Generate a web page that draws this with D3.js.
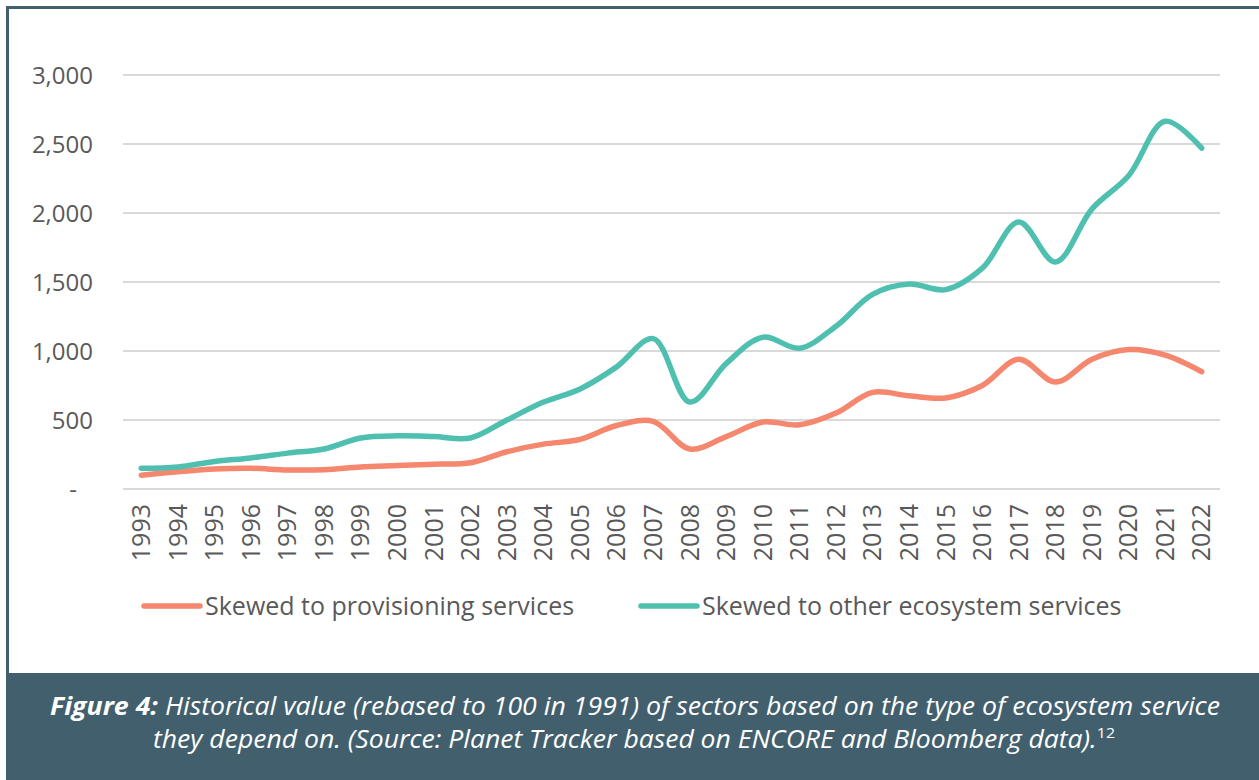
<!DOCTYPE html>
<meta charset="utf-8">
<html>
<head>
<title>Figure 4</title>
<style>
  body { margin: 0; background: #fff; font-family: 'Open Sans', sans-serif; }
  .tick text { fill: #595959; }
</style>
</head>
<body>
<div id="chart"></div>
<script src="https://cdn.jsdelivr.net/npm/d3@7"></script>
<script>

var years = ["1993","1994","1995","1996","1997","1998","1999","2000","2001","2002",
             "2003","2004","2005","2006","2007","2008","2009","2010","2011","2012",
             "2013","2014","2015","2016","2017","2018","2019","2020","2021","2022"];

var provisioning = [100, 125, 145, 150, 138, 140, 160, 170, 180, 190,
                    270, 325, 360, 460, 490, 290, 380, 485, 465, 550,
                    700, 675, 660, 750, 940, 775, 940, 1010, 970, 850];

var otherServices = [150, 160, 200, 225, 260, 290, 370, 385, 380, 370,
                     500, 630, 725, 885, 1090, 630, 910, 1100, 1020, 1180,
                     1410, 1485, 1445, 1600, 1935, 1645, 2030, 2270, 2665, 2470];

var yTicks = [0, 500, 1000, 1500, 2000, 2500, 3000];

var seriesNames = ["Skewed to provisioning services", "Skewed to other ecosystem services"];
var colors = ["#F4876D", "#4FC0B0"];

var width = 1259, height = 780;
var frame = "#425F6E";

var svg = d3.select("#chart").append("svg")
    .attr("width", width)
    .attr("height", height);

// outer frame (left + top edges) and caption band
svg.append("rect").attr("x", 0).attr("y", 0).attr("width", width).attr("height", height).style("fill", "#fff");
svg.append("rect").attr("x", 6).attr("y", 6).attr("width", width).attr("height", 3).style("fill", frame);
svg.append("rect").attr("x", 6).attr("y", 6).attr("width", 3).attr("height", height).style("fill", frame);
svg.append("rect").attr("x", 6).attr("y", 673).attr("width", width).attr("height", height - 673).style("fill", frame);

var x = d3.scaleBand().domain(years).range([123, 1220]);
var y = d3.scaleLinear().domain([0, 3000]).range([489, 75]);

// grid lines
svg.append("g")
  .selectAll("line")
  .data(yTicks).enter()
  .append("line")
    .attr("x1", 123).attr("x2", 1220)
    .attr("y1", function(d){ return y(d); })
    .attr("y2", function(d){ return y(d); })
    .style("stroke", "#d9d9d9")
    .style("stroke-width", 2);

// y axis
var yAxis = svg.append("g")
    .attr("transform", "translate(93,0)")
    .call(d3.axisLeft(y).tickValues(yTicks).tickSize(0).tickPadding(0)
      .tickFormat(function(d){ return d === 0 ? "-" : d3.format(",")(d); }));
yAxis.select(".domain").remove();
yAxis.selectAll("text")
    .style("font-family", "'Open Sans', sans-serif")
    .style("font-size", "24px")
    .attr("dy", "0.35em");
yAxis.selectAll(".tick").filter(function(d){ return d === 0; }).select("text")
    .attr("x", -16);

// x axis
var xAxis = svg.append("g")
    .attr("transform", "translate(0,489)")
    .call(d3.axisBottom(x).tickSize(0).tickPadding(0));
xAxis.select(".domain").remove();
xAxis.selectAll("text")
    .style("font-family", "'Open Sans', sans-serif")
    .style("font-size", "25px")
    .attr("transform", "rotate(-90)")
    .attr("x", -15)
    .attr("y", 0)
    .attr("dy", "0.35em")
    .style("text-anchor", "end");

// lines
var line = d3.line()
    .x(function(d, i){ return x(years[i]) + x.bandwidth() / 2; })
    .y(function(d){ return y(d); })
    .curve(d3.curveCatmullRom.alpha(0.5));

[provisioning, otherServices].forEach(function(s, i) {
  svg.append("path")
    .datum(s)
    .attr("d", line)
    .style("fill", "none")
    .style("stroke", colors[i])
    .style("stroke-width", 5.5)
    .style("stroke-linecap", "round")
    .style("stroke-linejoin", "round");
});

// legend
var legendX = [144, 641];
seriesNames.forEach(function(name, i) {
  svg.append("line")
    .attr("x1", legendX[i]).attr("x2", legendX[i] + 56)
    .attr("y1", 606).attr("y2", 606)
    .style("stroke", colors[i])
    .style("stroke-width", 5.5)
    .style("stroke-linecap", "round");
  svg.append("text")
    .attr("x", legendX[i] + 61)
    .attr("y", 615)
    .style("font-size", "25px")
    .style("fill", "#595959")
    .text(name);
});

// caption
var cap1 = svg.append("text")
    .attr("x", 635).attr("y", 715)
    .style("text-anchor", "middle")
    .style("font-size", "25px")
    .style("font-style", "italic")
    .style("fill", "#fff")
    .attr("textLength", 1170)
    .attr("lengthAdjust", "spacingAndGlyphs");
cap1.append("tspan").style("font-weight", "bold").text("Figure 4:");
cap1.append("tspan").text(" Historical value (rebased to 100 in 1991) of sectors based on the type of ecosystem service");

var cap2 = svg.append("text")
    .attr("x", 634).attr("y", 748)
    .style("text-anchor", "middle")
    .style("font-size", "25px")
    .style("font-style", "italic")
    .style("fill", "#fff")
    .attr("textLength", 962)
    .attr("lengthAdjust", "spacingAndGlyphs");
cap2.append("tspan").text("they depend on. (Source: Planet Tracker based on ENCORE and Bloomberg data).");
cap2.append("tspan")
    .attr("dy", -10)
    .style("font-size", "15px")
    .style("font-style", "normal")
    .text("12");

</script>
</body>
</html>
